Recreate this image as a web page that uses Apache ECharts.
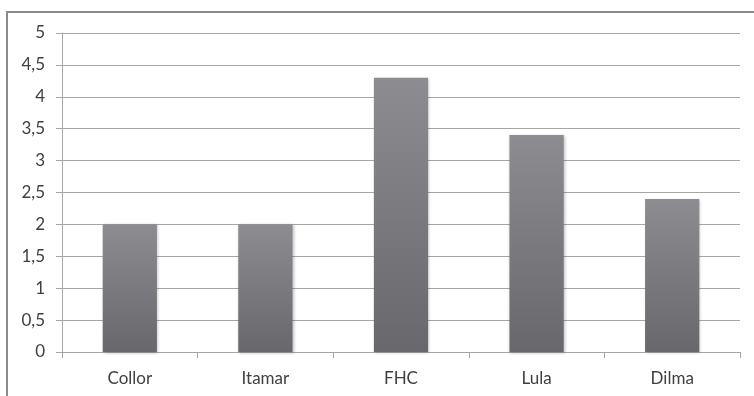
<!DOCTYPE html>
<html>
<head>
<meta charset="utf-8">
<script src="https://cdn.jsdelivr.net/npm/echarts@6/dist/echarts.min.js"></script>
<style>
  html, body { margin: 0; padding: 0; background: #fff; }
  #chart { width: 754px; height: 396px; }
</style>
</head>
<body>
<div id="chart"></div>
<script>
var categories = ['Collor', 'Itamar', 'FHC', 'Lula', 'Dilma'];
var values = [2, 2, 4.3, 3.4, 2.4];

var myChart = echarts.init(document.getElementById('chart'));
var option = {
  animation: false,
  backgroundColor: '#fff',
  textStyle: { fontFamily: 'Lato, "Open Sans", sans-serif' },
  graphic: [{
    type: 'rect',
    shape: { x: 7, y: 12, width: 760, height: 400 },
    style: { fill: 'none', stroke: '#8a8a8a', lineWidth: 2 }
  }],
  grid: { left: 62, right: 14, top: 33, bottom: 44 },
  xAxis: {
    type: 'category',
    data: categories,
    axisLine: { lineStyle: { color: '#a6a6a6', width: 1 } },
    axisTick: { show: true, length: 6, lineStyle: { color: '#a6a6a6' } },
    axisLabel: { color: '#404040', fontSize: 17, margin: 18 }
  },
  yAxis: {
    type: 'value',
    min: 0,
    max: 5,
    interval: 0.5,
    axisLine: { show: true, lineStyle: { color: '#a6a6a6', width: 1 } },
    axisTick: { show: true, length: 6, lineStyle: { color: '#a6a6a6' } },
    axisLabel: {
      color: '#404040', fontSize: 17, margin: 17,
      formatter: function (v) { return String(v).replace('.', ','); }
    },
    splitLine: { lineStyle: { color: '#a6a6a6', width: 1 } }
  },
  series: [{
    type: 'bar',
    data: values,
    barWidth: '40%',
    itemStyle: {
      color: new echarts.graphic.LinearGradient(0, 0, 0, 1, [
        { offset: 0, color: '#8d8d91' },
        { offset: 1, color: '#68686c' }
      ]),
      shadowColor: 'rgba(0,0,0,0.25)',
      shadowBlur: 3,
      shadowOffsetX: 1,
      shadowOffsetY: 1
    }
  }]
};
myChart.setOption(option);
</script>
</body>
</html>
